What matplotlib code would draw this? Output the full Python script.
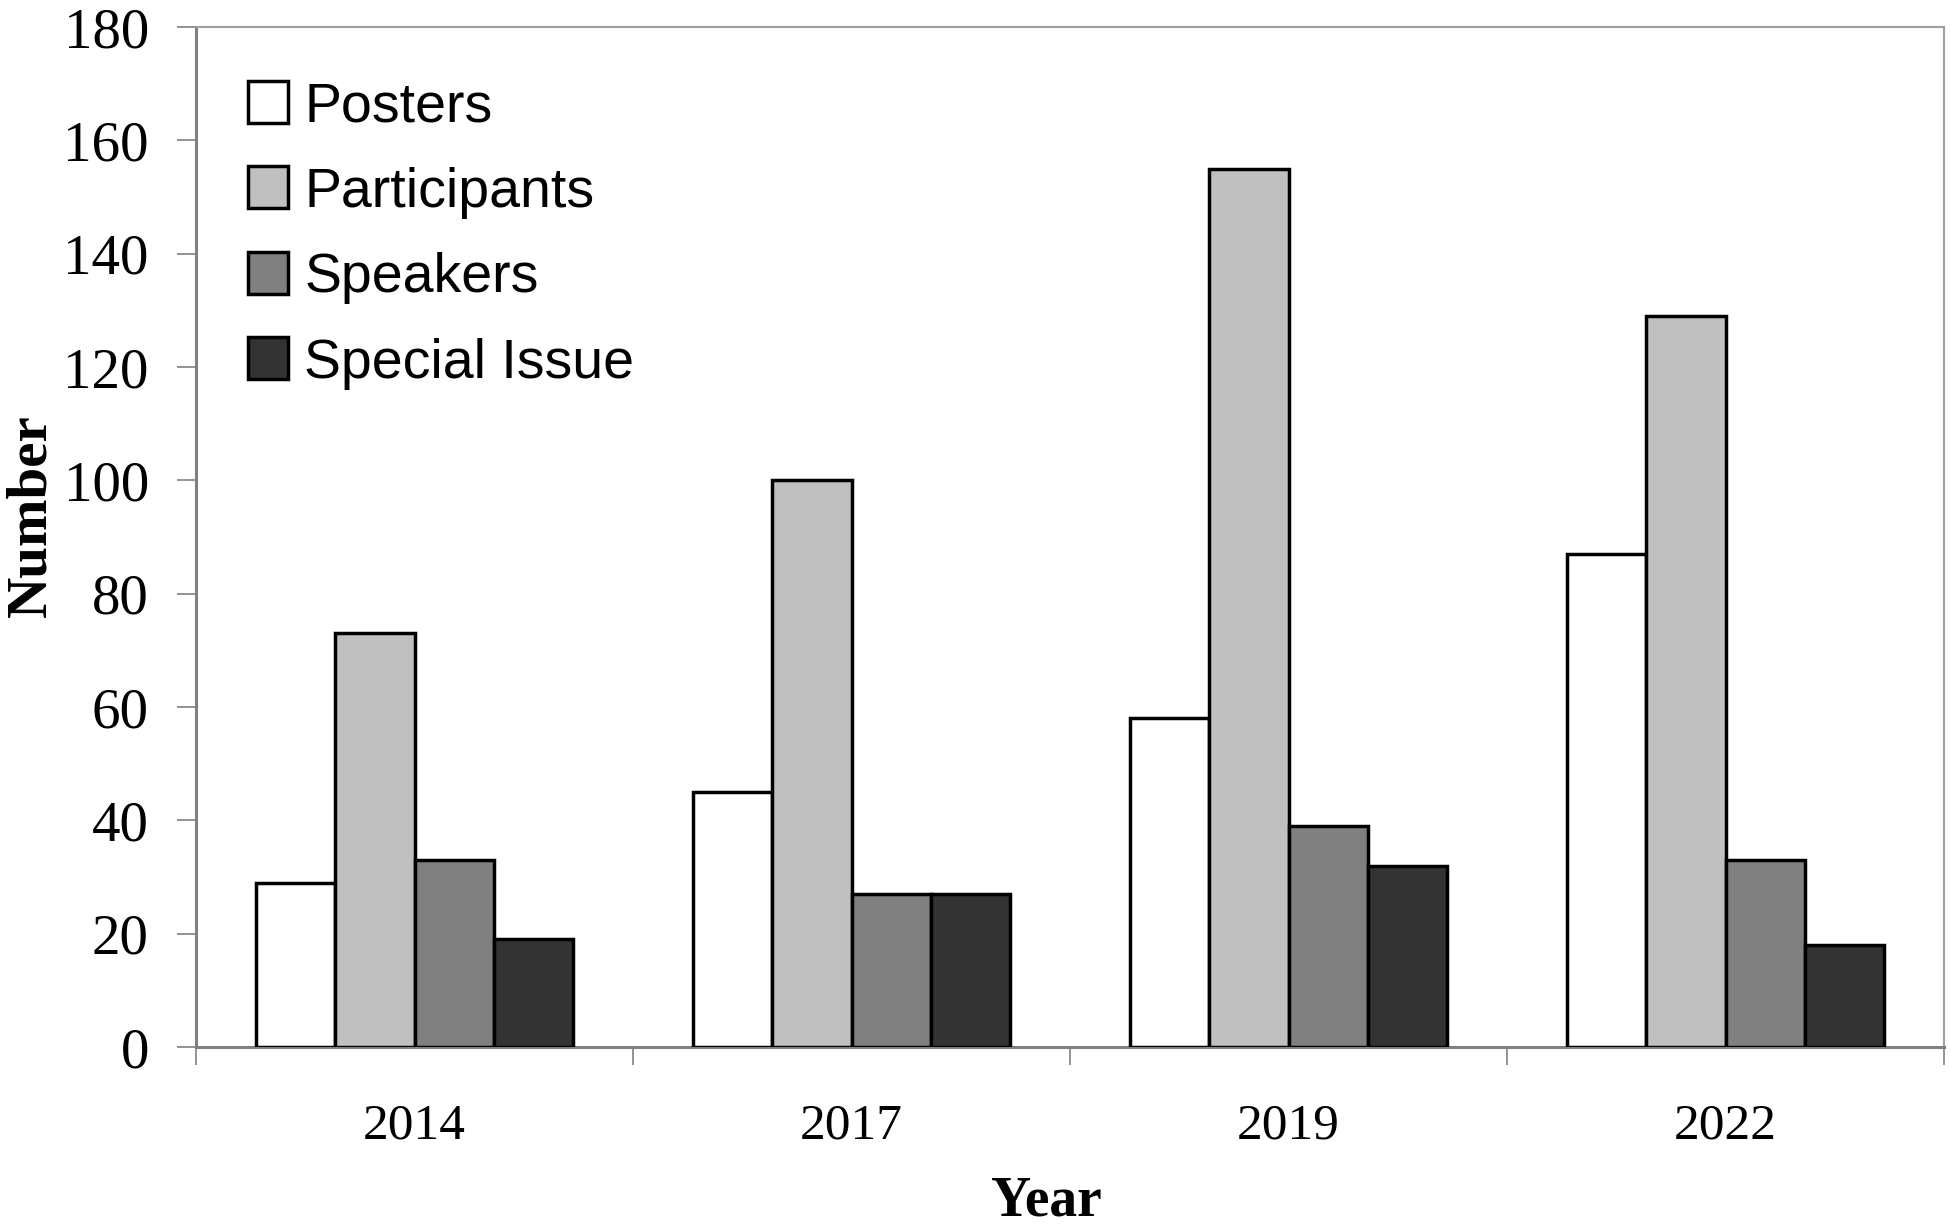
import numpy as np
import matplotlib.pyplot as plt

# datos
years = ["2014", "2017", "2019", "2022"]
posters = [29, 45, 58, 87]
participants = [73, 100, 155, 129]
speakers = [33, 27, 39, 33]
special_issue = [19, 27, 32, 18]

series = ["Posters", "Participants", "Speakers", "Special Issue"]
colores = ["#FFFFFF", "#C0C0C0", "#808080", "#333333"]

fig = plt.figure(figsize=(19.5, 12.25), dpi=100)
ax = fig.add_axes([196/1950, 1 - 1047/1225, (1944-196)/1950, (1047-27)/1225])

x = np.arange(len(years))
ancho = 1 / 5.5
valores = [posters, participants, speakers, special_issue]
for i, (vals, nombre, c) in enumerate(zip(valores, series, colores)):
    ax.bar(x + (i - 1.5) * ancho, vals, width=ancho, color=c,
           edgecolor="black", linewidth=2.5, label=nombre, zorder=3)

ax.set_xlim(-0.5, len(years) - 0.5)
ax.set_ylim(0, 180)
ax.set_yticks(np.arange(0, 181, 20))

# ticks entre grupos, etiquetas en el centro
ax.set_xticks(np.arange(-0.5, len(years), 1))
ax.set_xticklabels([])
ax.set_xticks(x, minor=True)
ax.set_xticklabels(years, minor=True)
ax.tick_params(axis="x", which="major", direction="out", length=13, width=1.2, color="#808080")
ax.tick_params(axis="x", which="minor", length=0, pad=40, labelsize=37)
ax.tick_params(axis="y", direction="out", length=14, width=1.2, color="#808080", pad=20, labelsize=41)
for lab in ax.get_xticklabels(minor=True) + ax.get_yticklabels():
    lab.set_fontfamily("Liberation Serif")

for lado in ["left", "bottom"]:
    ax.spines[lado].set_color("#808080")
    ax.spines[lado].set_linewidth(2.2)
for lado in ["top", "right"]:
    ax.spines[lado].set_color("#A0A0A0")
    ax.spines[lado].set_linewidth(1.5)

fig.text(1046/1950, 1 - 1175/1225, "Year", ha="center", va="top",
         fontsize=40, fontweight="bold", family="Liberation Serif")
fig.text(31/1950, 1 - 516/1225, "Number", ha="center", va="center", rotation=90,
         fontsize=41, fontweight="bold", family="Liberation Serif")

leg = ax.legend(loc="upper left", bbox_to_anchor=(220/1950, 1 - 53/1225),
                bbox_transform=fig.transFigure, frameon=False,
                prop={"family": "Liberation Sans", "size": 40},
                handlelength=0.72, handleheight=0.78, handletextpad=0.3,
                labelspacing=0.6, borderpad=0)

plt.savefig("out.png", dpi=100)
